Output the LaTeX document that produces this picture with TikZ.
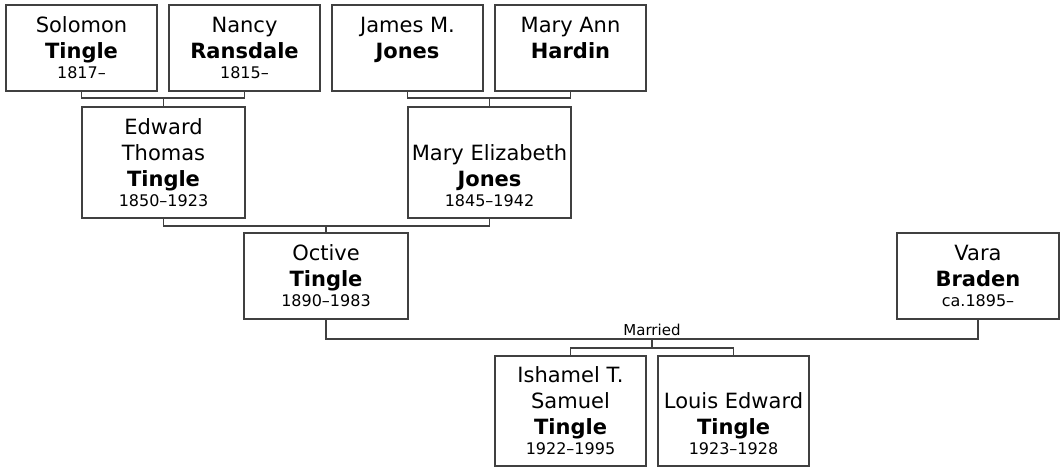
\documentclass[tikz,border=0pt]{standalone}
\usepackage{fontspec}
\setmainfont{DejaVu Sans}
\usepackage{xcolor}
\usetikzlibrary{positioning,calc}
\definecolor{TreeGrey}{HTML}{404040}
\newcommand{\yrfont}{\fontsize{16}{19}\selectfont}

\begin{document}
\begin{tikzpicture}[x=1pt, y=-1pt,
  person/.style={draw=TreeGrey, line width=2pt, fill=white, minimum width=151pt, minimum height=86pt, align=center, inner sep=1pt, font=\fontsize{21}{26}\selectfont},
  tall/.style={person, minimum height=110pt},
  wide/.style={minimum width=163pt},
  link/.style={draw=TreeGrey, line width=1.7pt},
  lab/.style={font=\fontsize{15}{18}\selectfont, inner sep=1pt}]
\useasboundingbox (0,0) rectangle (1062,468);
\node[person] (solomon) at (81.5,48) {Solomon\\\textbf{Tingle}\\[-6pt]{\yrfont 1817--}};
\node[person] (nancy) at (244.5,48) {Nancy\\\textbf{Ransdale}\\[-6pt]{\yrfont 1815--}};
\node[person] (james) at (407.5,48) {James M.\\\textbf{Jones}\\[-6pt]{\yrfont\phantom{0}}};
\node[person] (maryann) at (570.5,48) {Mary Ann\\\textbf{Hardin}\\[-6pt]{\yrfont\phantom{0}}};
\node[tall, wide, minimum height=111pt] (edward) at (163.5,162.5) {Edward\\Thomas\\\textbf{Tingle}\\[-6pt]{\yrfont 1850--1923}};
\node[tall, wide, minimum height=111pt] (marye) at (489.5,162.5) {\phantom{M}\\Mary Elizabeth\\\textbf{Jones}\\[-6pt]{\yrfont 1845--1942}};
\node[person, minimum width=164pt] (octive) at (326,276) {Octive\\\textbf{Tingle}\\[-6pt]{\yrfont 1890--1983}};
\node[person, minimum width=162pt] (vara) at (978,276) {Vara\\\textbf{Braden}\\[-6pt]{\yrfont ca.1895--}};
\node[tall] (ishamel) at (570.5,411) {Ishamel T.\\Samuel\\\textbf{Tingle}\\[-6pt]{\yrfont 1922--1995}};
\node[tall] (louis) at (733.5,411) {\phantom{L}\\Louis Edward\\\textbf{Tingle}\\[-6pt]{\yrfont 1923--1928}};
\coordinate (top1) at (163.5,98);
\coordinate (top2) at (489.5,98);
\coordinate (mid1) at (326,226);
\coordinate (wed) at (652,339);
\coordinate (kids) at (652,348);
\draw[link] (solomon.south) |- (top1) -| (nancy.south);
\draw[link] (top1) -- (edward.north);
\draw[link] (james.south) |- (top2) -| (maryann.south);
\draw[link] (top2) -- (marye.north);
\draw[link] (edward.south) |- (mid1) -| (marye.south);
\draw[link] (mid1) -- (octive.north);
\draw[link] (octive.south) |- (wed) -| (vara.south);
\node[lab, above=2pt] (married) at (wed) {Married};
\draw[link] (wed) -- (kids);
\draw[link] (ishamel.north) |- (kids) -| (louis.north);
\end{tikzpicture}
\end{document}
